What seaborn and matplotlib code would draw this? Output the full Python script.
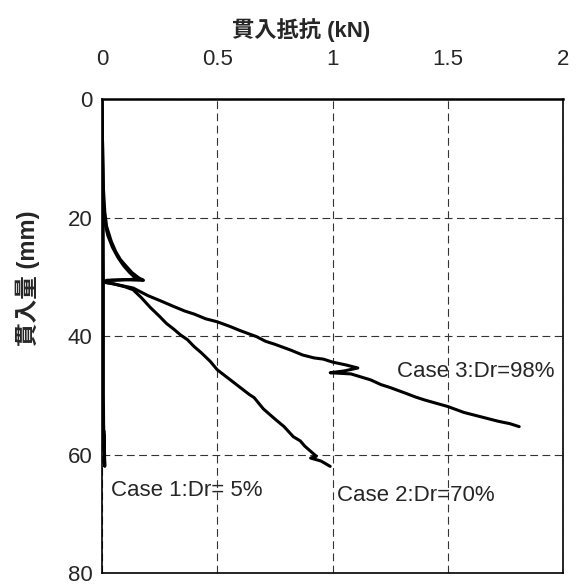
import matplotlib
matplotlib.use("Agg")
import matplotlib.pyplot as plt
import seaborn as sns
import pandas as pd

# Penetration resistance (kN) vs penetration depth (mm) for each case
case1_load = [0.000, 0.003, 0.005, 0.006, 0.006, 0.006, 0.007, 0.009, 0.011, 0.012, 0.010, 0.008]
case1_depth = [0.0, 10.0, 20.0, 30.0, 40.0, 50.0, 55.0, 58.0, 61.0, 62.0, 58.0, 56.0]

case2_load = [0.000, 0.003, 0.005, 0.010, 0.025, 0.045, 0.070, 0.095, 0.120, 0.150, 0.100, 0.040,
              0.008, 0.050, 0.100, 0.135, 0.170, 0.210, 0.250, 0.280, 0.310, 0.340, 0.370,
              0.400, 0.430, 0.470, 0.500, 0.530, 0.560, 0.610, 0.640, 0.660, 0.700,
              0.750, 0.790, 0.830, 0.860, 0.880, 0.930, 0.905, 0.950, 0.990]
case2_depth = [0.0, 10.0, 16.0, 20.5, 23.0, 25.0, 26.8, 28.2, 29.3, 30.4, 30.5, 30.6,
               30.9, 31.2, 31.7, 32.2, 33.5, 35.2, 36.7, 37.9, 38.8, 39.8, 40.6,
               41.8, 42.8, 44.3, 45.7, 46.6, 47.5, 49.0, 49.9, 50.4, 52.3,
               54.0, 55.3, 57.0, 57.7, 58.6, 60.3, 60.6, 61.1, 62.0]

case3_load = [0.000, 0.003, 0.006, 0.012, 0.020, 0.040, 0.060, 0.080, 0.100, 0.130, 0.160, 0.180,
              0.100, 0.020, 0.005, 0.050, 0.135, 0.200, 0.250, 0.310, 0.360, 0.400, 0.450,
              0.500, 0.556, 0.600, 0.670, 0.710, 0.750, 0.820, 0.870, 0.920, 0.960,
              1.000, 1.060, 1.110, 1.050, 0.990, 1.080, 1.165, 1.210, 1.250, 1.320,
              1.360, 1.400, 1.500, 1.570, 1.640, 1.720, 1.770, 1.810]
case3_depth = [0.0, 10.0, 15.0, 19.0, 21.5, 24.0, 25.8, 27.1, 28.0, 29.3, 30.2, 30.6,
               30.5, 30.6, 30.9, 31.2, 31.9, 33.2, 34.0, 35.0, 35.8, 36.3, 37.1,
               37.6, 38.4, 39.1, 40.1, 40.9, 41.4, 42.4, 43.2, 43.7, 43.9,
               44.4, 44.9, 45.4, 45.9, 46.2, 46.4, 47.4, 48.2, 48.7, 49.7,
               50.3, 50.8, 51.9, 52.9, 53.6, 54.4, 54.8, 55.3]

case_labels = ["Case 1:Dr= 5%", "Case 2:Dr=70%", "Case 3:Dr=98%"]
label_pos = [(0.04, 66.0), (1.02, 67.0), (1.28, 46.0)]

x_ticks = [0, 0.5, 1, 1.5, 2]
x_tick_labels = ["0", "0.5", "1", "1.5", "2"]
y_ticks = [0, 20, 40, 60, 80]

frames = []
for name, xs, ys in zip(case_labels,
                        [case1_load, case2_load, case3_load],
                        [case1_depth, case2_depth, case3_depth]):
    frames.append(pd.DataFrame({"load": xs, "depth": ys, "case": name}))
df = pd.concat(frames, ignore_index=True)

sns.set_style("white")
plt.rcParams["font.family"] = ["Liberation Sans", "Noto Sans CJK JP", "DejaVu Sans"]

fig = plt.figure(figsize=(5.81, 5.86), dpi=100)
ax = fig.add_axes([102 / 581, 1 - 573 / 586, 461 / 581, 474 / 586])

sns.lineplot(data=df, x="load", y="depth", units="case", estimator=None,
             sort=False, color="black", linewidth=2.2, ax=ax, legend=False)

ax.set_xlim(0, 2)
ax.set_ylim(80, 0)
ax.set_xticks(x_ticks)
ax.set_xticklabels(x_tick_labels)
ax.set_yticks(y_ticks)
ax.xaxis.tick_top()
ax.xaxis.set_label_position("top")
ax.tick_params(axis="x", length=0, pad=21, labelsize=16)
ax.tick_params(axis="y", length=0, pad=7, labelsize=16)

ax.grid(True, color="#333333", linestyle=(0, (7, 4)), linewidth=0.8)
ax.set_axisbelow(True)
for side in ["top", "bottom", "left", "right"]:
    ax.spines[side].set_color("black")
    ax.spines[side].set_linewidth(1.2)
ax.spines["top"].set_linewidth(1.8)

ax.set_xlabel("貫入抵抗 (kN)", fontsize=16, fontweight="bold")
ax.set_ylabel("貫入量 (mm)", fontsize=17, fontweight="bold")
ax.xaxis.set_label_coords(0.432, 1.146)
ax.yaxis.set_label_coords(-0.16, 0.622)
ax.xaxis.label.set_va("center")
ax.yaxis.label.set_va("center")

for text, (tx, ty) in zip(case_labels, label_pos):
    ax.text(tx, ty, text, fontsize=16, ha="left", va="center")

fig.savefig("out.png", dpi=100)
